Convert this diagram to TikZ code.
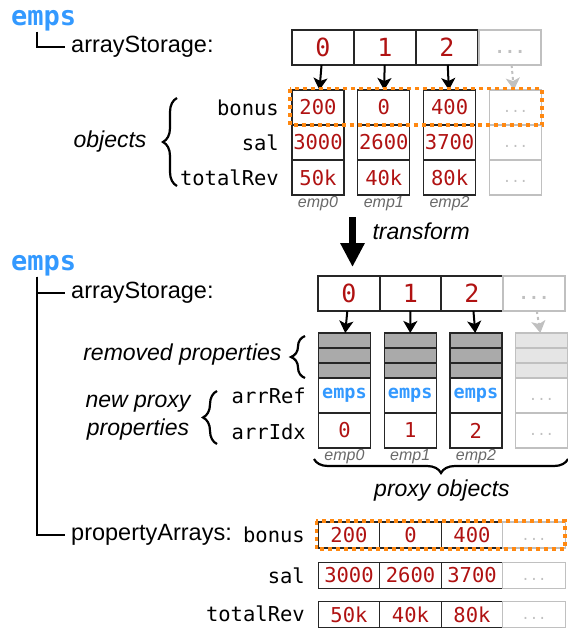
\documentclass[tikz,border=0pt]{standalone}
\usepackage{fontspec}
\setmainfont{Liberation Sans}
\setmonofont{DejaVu Sans Mono}
\usepackage{tikz}
\usetikzlibrary{arrows.meta, decorations.pathreplacing, positioning}
\definecolor{valred}{RGB}{176,18,18}
\definecolor{empblue}{RGB}{51,153,255}
\definecolor{moregray}{RGB}{192,192,192}
\definecolor{hlorange}{RGB}{255,136,17}
\definecolor{gonefill}{RGB}{170,170,170}
\definecolor{gonelight}{RGB}{229,229,229}
\definecolor{namegray}{RGB}{105,105,105}
\tikzstyle{idxcell} = [rectangle, draw=black!85, line width=1.2pt, outer sep=0pt, inner sep=0pt, minimum width=62pt, minimum height=35pt, text=valred, font=\ttfamily\fontsize{25}{25}\selectfont]
\tikzstyle{moreidx} = [idxcell, draw=moregray, text=moregray, font=\ttfamily\bfseries\fontsize{17}{17}\selectfont, execute at begin node=\vphantom{0}]
\tikzstyle{valcell} = [rectangle, draw=black!85, line width=1.2pt, outer sep=0pt, inner sep=0pt, minimum width=52pt, minimum height=35pt, text=valred, font=\ttfamily\fontsize{20.5}{20.5}\selectfont]
\tikzstyle{dotcell} = [valcell, draw=moregray, text=moregray, font=\ttfamily\fontsize{14}{14}\selectfont, execute at begin node=\vphantom{0}]
\tikzstyle{refcell} = [valcell, text=empblue, font=\ttfamily\bfseries\fontsize{18.5}{18.5}\selectfont]
\tikzstyle{gonecell} = [rectangle, draw=black!85, fill=gonefill, line width=1.2pt, outer sep=0pt, inner sep=0pt, minimum width=52pt, minimum height=15pt]
\tikzstyle{flatcell} = [valcell, minimum width=61.5pt, minimum height=26pt]
\tikzstyle{flatdots} = [dotcell, minimum width=63pt, minimum height=26pt]
\tikzstyle{propname} = [anchor=east, inner sep=1pt, font=\ttfamily\fontsize{20.5}{20.5}\selectfont]
\tikzstyle{fieldname} = [anchor=west, inner xsep=6pt, inner ysep=2pt, font=\fontsize{23.5}{23.5}\selectfont]
\tikzstyle{varname} = [anchor=west, inner sep=0pt, text=empblue, font=\ttfamily\bfseries\fontsize{27}{27}\selectfont]
\tikzstyle{objname} = [inner sep=1.5pt, text=namegray, font=\itshape\fontsize{16}{16}\selectfont]
\tikzstyle{note} = [align=center, font=\itshape\fontsize{23}{28}\selectfont]
\tikzstyle{line} = [draw, line width=2pt, -{Stealth[length=12pt, width=14pt, inset=3pt]}]
\tikzstyle{bigline} = [draw, line width=7pt, -{Triangle[length=24pt, width=23pt]}]
\tikzstyle{tree} = [draw, line width=2.4pt]
\tikzstyle{curly} = [draw, line width=2.2pt, decorate, decoration={brace, amplitude=14pt}]
\tikzstyle{hilite} = [draw=hlorange, line width=3.5pt, dash pattern=on 4pt off 4pt]

\begin{document}
\begin{tikzpicture}[x=1pt, y=-1pt]
    \useasboundingbox (0,0) rectangle (568,630);

    % before the transform
    \node[varname](emps1) at (11,21) {emps};
    \node[fieldname](store1) at (65,47) {arrayStorage:};
    \path[tree] ([xshift=-6.5pt]emps1.south) |- (store1.west);

    \foreach \i in {0,1,2}
        \node[idxcell](a\i) at ({323+62*\i},47.5) {\i};
    \node[moreidx](a3) at (510,47.5) {...};

    \foreach \i/\b/\s/\t in {0/200/3000/50k, 1/0/2600/40k, 2/400/3700/80k} {
        \node[valcell](bonus\i) at ({318+65.8*\i},107.5) {\b};
        \node[valcell, below=0pt of bonus\i](sal\i) {\s};
        \node[valcell, below=0pt of sal\i](rev\i) {\t};
        \node[objname, below=0pt of rev\i](emp\i) {emp\i};
        \path[line] (a\i) -- (bonus\i);
    }
    \node[dotcell](bonus3) at (515.5,107.5) {...};
    \node[dotcell, below=0pt of bonus3](sal3) {...};
    \node[dotcell, below=0pt of sal3](rev3) {...};
    \path[line, draw=moregray, dashed] (a3) -- (bonus3);
    \draw[hilite] ([xshift=-2pt, yshift=1.5pt]bonus0.north west) rectangle ([xshift=0.5pt]bonus3.south east);

    \node[propname](lbonus) at (280,107.5) {bonus};
    \node[propname](lsal) at (280,142.5) {sal};
    \node[propname](lrev) at (280,177.5) {totalRev};
    \path[curly] (177,186) -- (177,98);
    \node[note, anchor=east](objs) at (150,142) {objects};

    % transform
    \coordinate (tstart) at (352.5,217);
    \coordinate (tend) at (352.5,267);
    \path[bigline] (tstart) -- (tend);
    \node[note, anchor=west](tlab) at (369,231) {transform};

    % after the transform
    \node[varname](emps2) at (11,266) {emps};
    \node[fieldname](store2) at (65,293) {arrayStorage:};
    \node[fieldname](parr) at (65,535) {propertyArrays:};
    \path[tree] ([xshift=-6.5pt]emps2.south) |- (store2.west);
    \path[tree] ([xshift=-6.5pt]emps2.south) |- (parr.west);

    \foreach \i in {0,1,2}
        \node[idxcell](b\i) at ({349+61.5*\i},293.5) {\i};
    \node[moreidx](b3) at (534,293.5) {...};

    \foreach \i in {0,1,2} {
        \node[gonecell](ga\i) at ({344.5+65.7*\i},340.5) {};
        \node[gonecell, below=0pt of ga\i](gb\i) {};
        \node[gonecell, below=0pt of gb\i](gc\i) {};
        \node[refcell, below=0pt of gc\i](ref\i) {emps};
        \node[valcell, below=0pt of ref\i](pos\i) {\i};
        \node[objname, below=0pt of pos\i](pemp\i) {emp\i};
        \path[line] (b\i) -- (ga\i);
    }
    \node[gonecell, fill=gonelight, draw=moregray](ga3) at (541.5,340.5) {};
    \node[gonecell, fill=gonelight, draw=moregray, below=0pt of ga3](gb3) {};
    \node[gonecell, fill=gonelight, draw=moregray, below=0pt of gb3](gc3) {};
    \node[dotcell, below=0pt of gc3](ref3) {...};
    \node[dotcell, below=0pt of ref3](pos3) {...};
    \path[line, draw=moregray, dashed] (b3) -- (ga3);

    \path[curly] (305,378) -- (305,336);
    \node[note, anchor=east](gone) at (285,355) {removed properties};
    \path[curly] (217,444) -- (217,391);
    \node[note](newp) at (138,418) {new proxy\\properties};
    \node[propname](lref) at (307,396) {arrRef};
    \node[propname](lidx) at (307,432) {arrIdx};
    \path[curly] (568,459) -- (314,459);
    \node[note](pobjs) at (442,491) {proxy objects};

    % property arrays
    \foreach \i/\b/\s/\t in {0/200/3000/50k, 1/0/2600/40k, 2/400/3700/80k} {
        \node[flatcell](pb\i) at ({349+61.5*\i},535) {\b};
        \node[flatcell](ps\i) at ({349+61.5*\i},575.5) {\s};
        \node[flatcell](pt\i) at ({349+61.5*\i},614.5) {\t};
    }
    \node[flatdots](pb3) at (534,535) {...};
    \node[flatdots](ps3) at (534,575.5) {...};
    \node[flatdots](pt3) at (534,614.5) {...};
    \draw[hilite] ([xshift=-2pt, yshift=1pt]pb0.north west) rectangle ([xshift=-0.5pt, yshift=-1pt]pb3.south east);

    \node[propname](pbonus) at (306,535) {bonus};
    \node[propname](psal) at (306,576) {sal};
    \node[propname](prev) at (306,614) {totalRev};
\end{tikzpicture}
\end{document}
